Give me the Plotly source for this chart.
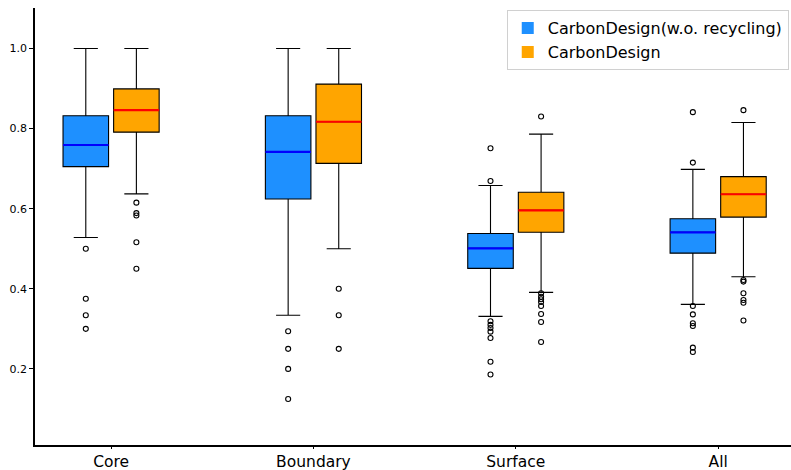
import plotly.graph_objects as go

categories = ["Core", "Boundary", "Surface", "All"]
series_names = ["CarbonDesign(w.o. recycling)", "CarbonDesign"]

# Series 1: CarbonDesign (w.o. recycling)
s1_lower = [0.528, 0.334, 0.331, 0.361]
s1_q1 = [0.705, 0.624, 0.451, 0.489]
s1_median = [0.759, 0.742, 0.501, 0.541]
s1_q3 = [0.832, 0.832, 0.538, 0.575]
s1_upper = [1.0, 1.0, 0.658, 0.698]
s1_outliers = [
    [0.500, 0.375, 0.334, 0.300],
    [0.294, 0.250, 0.200, 0.125],
    [0.751, 0.669, 0.319, 0.310, 0.302, 0.293, 0.277, 0.218, 0.186],
    [0.841, 0.715, 0.357, 0.336, 0.314, 0.307, 0.253, 0.242],
]

# Series 2: CarbonDesign
s2_lower = [0.637, 0.500, 0.391, 0.430]
s2_q1 = [0.791, 0.713, 0.541, 0.579]
s2_median = [0.846, 0.817, 0.596, 0.636]
s2_q3 = [0.899, 0.911, 0.641, 0.680]
s2_upper = [1.0, 1.0, 0.786, 0.815]
s2_outliers = [
    [0.615, 0.589, 0.583, 0.516, 0.450],
    [0.400, 0.334, 0.250],
    [0.830, 0.389, 0.380, 0.374, 0.367, 0.357, 0.337, 0.317, 0.267],
    [0.846, 0.422, 0.418, 0.389, 0.372, 0.365, 0.321],
]

series = [
    dict(name=series_names[0], lo=s1_lower, q1=s1_q1, med=s1_median, q3=s1_q3, hi=s1_upper,
         out=s1_outliers, fill="#1E90FF", mcol="#0000FF", offset=-0.125),
    dict(name=series_names[1], lo=s2_lower, q1=s2_q1, med=s2_median, q3=s2_q3, hi=s2_upper,
         out=s2_outliers, fill="#FFA500", mcol="#FF0000", offset=0.125),
]

box_w = 0.225
fig = go.Figure()

for s in series:
    xs = [i + s["offset"] for i in range(len(categories))]
    fig.add_trace(go.Box(
        x=xs, q1=s["q1"], median=s["med"], q3=s["q3"],
        lowerfence=s["lo"], upperfence=s["hi"],
        width=box_w, whiskerwidth=0.53,
        fillcolor=s["fill"], line=dict(color="black", width=1.1),
        boxpoints=False, showlegend=False, hoverinfo="skip",
    ))
    # median lines
    mx, my = [], []
    for x, m in zip(xs, s["med"]):
        mx += [x - box_w / 2, x + box_w / 2, None]
        my += [m, m, None]
    fig.add_trace(go.Scatter(x=mx, y=my, mode="lines",
                             line=dict(color=s["mcol"], width=2.2),
                             showlegend=False, hoverinfo="skip"))
    # outliers
    ox, oy = [], []
    for x, outs in zip(xs, s["out"]):
        ox += [x] * len(outs)
        oy += outs
    fig.add_trace(go.Scatter(x=ox, y=oy, mode="markers",
                             marker=dict(symbol="circle-open", size=5,
                                         color="black", line=dict(width=1.1)),
                             showlegend=False, hoverinfo="skip"))
    # legend proxy
    fig.add_trace(go.Bar(x=[None], y=[None], name=s["name"],
                         marker=dict(color=s["fill"], line=dict(width=0)),
                         showlegend=True))

fig.update_layout(
    width=791, height=470,
    margin=dict(l=35, r=0, t=8, b=25),
    plot_bgcolor="white", paper_bgcolor="white",
    font=dict(family="DejaVu Sans", color="black"),
    showlegend=True,
    legend=dict(x=0.624, y=0.995, xanchor="left", yanchor="top",
                bgcolor="white", bordercolor="#d0d0d0", borderwidth=1,
                font=dict(size=16)),
    xaxis=dict(range=[-0.376, 3.36], tickmode="array",
               tickvals=list(range(len(categories))), ticktext=categories,
               showgrid=False, zeroline=False, showline=True, linecolor="black",
               linewidth=1.5, ticks="outside", ticklen=2, tickcolor="black",
               tickfont=dict(size=15.5), automargin=False),
    yaxis=dict(range=[0.01, 1.101], tickvals=[0.2, 0.4, 0.6, 0.8, 1.0],
               tickformat=".1f", showgrid=False, zeroline=False, showline=True,
               linecolor="black", linewidth=1.5, ticks="outside", ticklen=4,
               tickcolor="black", tickfont=dict(size=11), automargin=False),
)

fig.write_html("out.html")
